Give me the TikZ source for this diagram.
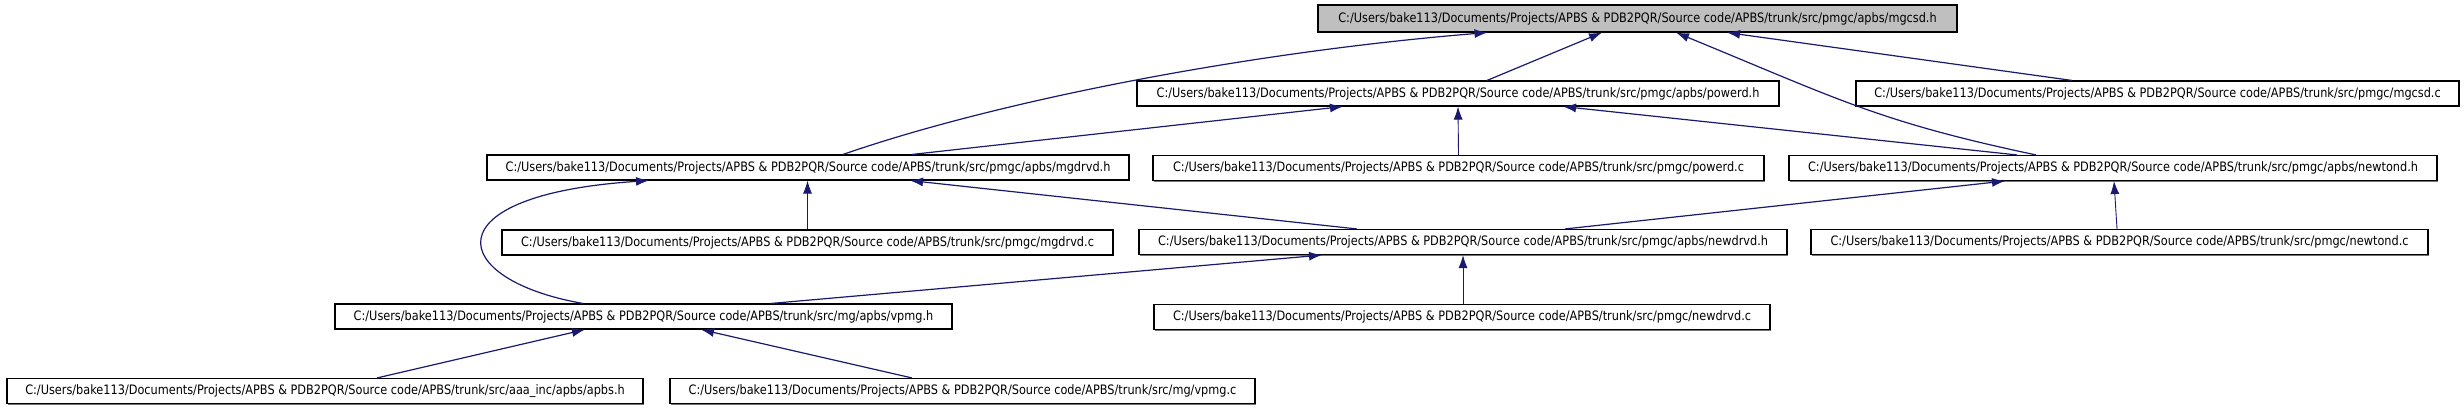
\documentclass[tikz,border=0pt]{standalone}
\usepackage{fontspec}
\newfontfamily\dxfont{DejaVu Sans}
\usetikzlibrary{arrows.meta,shadows}
\definecolor{edgeblue}{HTML}{191970}
\definecolor{rootgray}{HTML}{BFBFBF}
\newcommand{\fname}[1]{\scalebox{1}[1.15]{C:/Users/bake113/Documents/Projects/APBS \& PDB2PQR/Source code/APBS/trunk/src/#1}}
\tikzset{
  filebox/.style={draw=black, line width=1.1pt, fill=white, inner sep=0pt,
    minimum height=25pt, font=\dxfont\fontsize{11.3}{13}\selectfont, anchor=center,
    drop shadow={shadow xshift=1.4pt, shadow yshift=-1.4pt, fill=black!55, opacity=1}},
  rootbox/.style={filebox, fill=rootgray, minimum height=27pt},
  incl/.style={draw=edgeblue, line width=1.2pt, -{Latex[length=13pt,width=9pt]}},
  inclthin/.style={incl, line width=0.9pt}
}
\begin{document}
\begin{tikzpicture}[x=1pt,y=-1pt]
\useasboundingbox (0,0) rectangle (2464,411);
\fill[white] (0,0) rectangle (2464,411);
% row 0
\node[rootbox, minimum width=639pt] (mgcsdh) at (1637.5,18.5) {\fname{pmgc/apbs/mgcsd.h}};
% row 1
\node[filebox, minimum width=642pt] (powerdh) at (1458,93.5) {\fname{pmgc/apbs/powerd.h}};
\node[filebox, minimum width=603pt] (mgcsdc) at (2157.5,93.5) {\fname{pmgc/mgcsd.c}};
% row 2
\node[filebox, minimum width=642pt] (mgdrvdh) at (808,167.5) {\fname{pmgc/apbs/mgdrvd.h}};
\node[filebox, minimum width=611pt] (powerdc) at (1458.5,168) {\fname{pmgc/powerd.c}};
\node[filebox, minimum width=648pt] (newtondh) at (2113,168) {\fname{pmgc/apbs/newtond.h}};
% row 3
\node[filebox, minimum width=611pt] (mgdrvdc) at (807.5,242.5) {\fname{pmgc/mgdrvd.c}};
\node[filebox, minimum width=648pt] (newdrvdh) at (1463,242) {\fname{pmgc/apbs/newdrvd.h}};
\node[filebox, minimum width=617pt] (newtondc) at (2119.5,242) {\fname{pmgc/newtond.c}};
% row 4
\node[filebox, minimum width=617pt] (vpmgh) at (643.5,316.5) {\fname{mg/apbs/vpmg.h}};
\node[filebox, minimum width=616pt] (newdrvdc) at (1462,317) {\fname{pmgc/newdrvd.c}};
% row 5
\node[filebox, minimum width=636pt] (apbsh) at (325,391) {\fname{aaa\_inc/apbs/apbs.h}};
\node[filebox, minimum width=585pt] (vpmgc) at (962.5,391) {\fname{mg/vpmg.c}};

% edges into mgcsd.h
\draw[incl] ([xshift=35pt]mgdrvdh.north) .. controls (1000,100) and (1250,52) .. ([xshift=-150pt]mgcsdh.south);
\draw[incl] ([xshift=29pt]powerdh.north) -- ([xshift=-35.5pt]mgcsdh.south);
\draw[incl] ([xshift=-77pt]newtondh.north) .. controls (1880,122) and (1840,100) .. ([xshift=38.5pt]mgcsdh.south);
\draw[incl] ([xshift=-85.5pt]mgcsdc.north) -- ([xshift=89.5pt]mgcsdh.south);
% edges into powerd.h
\draw[incl] ([xshift=104pt]mgdrvdh.north) -- ([xshift=-115pt]powerdh.south);
\draw[inclthin] (powerdc.north) -- (powerdh.south);
\draw[incl] ([xshift=-96pt]newtondh.north) -- ([xshift=105pt]powerdh.south);
% edges into mgdrvd.h
\draw[inclthin] (mgdrvdc.north) -- ([xshift=-0.5pt]mgdrvdh.south);
\draw[incl] ([xshift=-106pt]newdrvdh.north) -- ([xshift=102pt]mgdrvdh.south);
\draw[incl] ([xshift=-60.5pt]vpmgh.north) .. controls (448,280) and (428,195) .. ([xshift=-159pt]mgdrvdh.south);
% edges into newtond.h
\draw[incl] ([xshift=102pt]newdrvdh.north) -- ([xshift=-108pt]newtondh.south);
\draw[inclthin] ([xshift=-2.5pt]newtondc.north) -- ([xshift=1pt]newtondh.south);
% edges into newdrvd.h
\draw[incl] ([xshift=127.5pt]vpmgh.north) -- ([xshift=-141pt]newdrvdh.south);
\draw[inclthin] ([xshift=1pt]newdrvdc.north) -- (newdrvdh.south);
% edges into vpmg.h
\draw[incl] ([xshift=52pt]apbsh.north) -- ([xshift=-58.5pt]vpmgh.south);
\draw[incl] ([xshift=-50.5pt]vpmgc.north) -- ([xshift=57.5pt]vpmgh.south);
\end{tikzpicture}
\end{document}
